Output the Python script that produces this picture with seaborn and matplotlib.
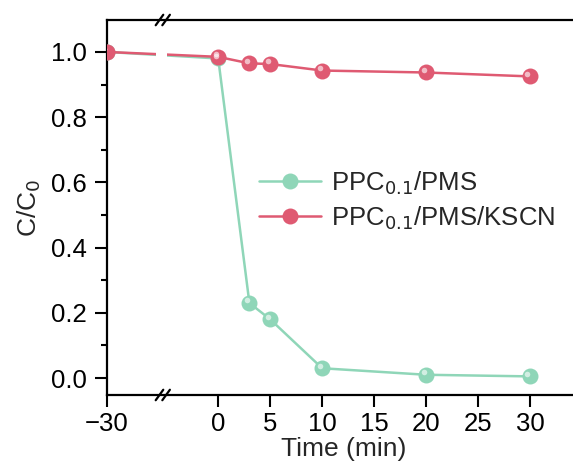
import numpy as np
import pandas as pd
import matplotlib.pyplot as plt
import seaborn as sns

sns.set_style("ticks")
plt.rcParams['font.family'] = ['Liberation Sans', 'DejaVu Sans']

# data
time = [-30, 0, 3, 5, 10, 20, 30]
pms = [1.0, 0.98, 0.23, 0.18, 0.03, 0.01, 0.005]
pms_kscn = [1.0, 0.985, 0.965, 0.963, 0.943, 0.937, 0.925]
labels = ["PPC$_{0.1}$/PMS", "PPC$_{0.1}$/PMS/KSCN"]
colors = ["#8fd6b8", "#df5a72"]

# broken axis: -30 is squeezed to sit 10.7 units left of 0
def squeeze(t):
    return np.where(np.asarray(t) < 0, -10.7, np.asarray(t))

df = pd.DataFrame({
    "t": np.concatenate([squeeze(time), squeeze(time)]),
    "c": pms + pms_kscn,
    "sample": [labels[0]] * len(time) + [labels[1]] * len(time),
})

fig = plt.figure(figsize=(5.73, 4.63), dpi=100)
ax = fig.add_axes([0.1867, 0.1469, 0.8255, 0.8099])

sns.lineplot(data=df, x="t", y="c", hue="sample", palette=colors,
             marker="o", markersize=11.5, markeredgewidth=0, linewidth=1.8,
             ax=ax, zorder=3)
# little shine on the balls
for lab, col in zip(labels, colors):
    sub = df[df["sample"] == lab]
    ax.plot(sub["t"] - 0.25, sub["c"] + 0.008, "o", ms=4, color="white",
            alpha=0.6, mec="none", zorder=4)

ax.set_xlim(-10.7, 34.8)
ax.set_ylim(-0.052, 1.098)
ax.set_xticks(squeeze([-30, 0, 5, 10, 15, 20, 25, 30]))
ax.set_xticklabels(["\u221230", "0", "5", "10", "15", "20", "25", "30"])
ax.set_yticks([0, 0.2, 0.4, 0.6, 0.8, 1.0])
ax.set_yticks([0.1, 0.3, 0.5, 0.7, 0.9], minor=True)
ax.set_yticklabels(["0.0", "0.2", "0.4", "0.6", "0.8", "1.0"])
ax.tick_params(axis="both", which="major", labelsize=18.5, length=8.5, width=1.5,
               direction="out", color="black", labelcolor="black")
ax.tick_params(axis="x", which="major", pad=4)
ax.tick_params(axis="y", which="major", pad=6)
ax.tick_params(axis="y", which="minor", length=4.5, width=1.5, direction="out",
               color="black")
for s in ["left", "top", "bottom"]:
    ax.spines[s].set_linewidth(1.6)
    ax.spines[s].set_color("black")
ax.spines["right"].set_visible(False)

ax.set_xlabel("Time (min)", fontsize=19, labelpad=0.5)
ax.set_ylabel("C/C$_0$", fontsize=19, labelpad=6)

# gap in the lines at the break
ax.axvspan(-6.0, -4.9, ymin=0.85, ymax=0.97, color="white", zorder=5, lw=0)

# break marks on the top and bottom spines
bx = 0.118
for yb in [0.0, 1.0]:
    for dx in [-0.007, 0.007]:
        ax.plot([bx + dx - 0.008, bx + dx + 0.008], [yb - 0.014, yb + 0.014],
                transform=ax.transAxes, color="black", lw=1.6, clip_on=False,
                zorder=6)

ax.legend(frameon=False, fontsize=18.5, loc="upper left",
          bbox_to_anchor=(0.3, 0.63), handlelength=2.4, handletextpad=0.4,
          labelspacing=0.3, borderaxespad=0)

fig.savefig("out.png", dpi=100)
